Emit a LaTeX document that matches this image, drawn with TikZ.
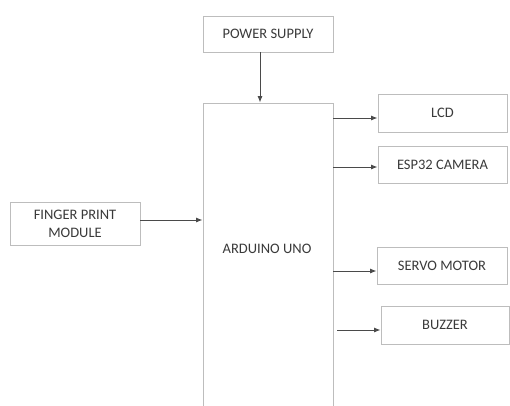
\documentclass[tikz,border=0pt]{standalone}
\usepackage{fontspec}
\setmainfont{Carlito}
\usetikzlibrary{arrows.meta}
\definecolor{boxline}{HTML}{BDBDBD}
\definecolor{txt}{HTML}{3A3A3A}
\definecolor{wire}{HTML}{4A4A4A}
\begin{document}
\begin{tikzpicture}[x=1pt,y=-1pt,
  blk/.style={draw=boxline, line width=0.9pt, fill=white, inner sep=0pt, align=center,
    text=txt, font=\fontsize{14.5}{18}\selectfont},
  wirearrow/.style={draw=wire, line width=0.9pt, -{Latex[length=6.5pt,width=5pt]}}]
\clip (0,0) rectangle (510,405);
\fill[white] (0,0) rectangle (510,405);
\node[blk, minimum width=130pt, minimum height=36pt] (ps) at (268,34) {POWER SUPPLY};
\node[blk, minimum width=130pt, minimum height=312pt] (uno) at (268,259) {};
\node[text=txt, font=\fontsize{14.5}{18}\selectfont] (unolabel) at (267,249) {ARDUINO UNO};
\node[blk, minimum width=129pt, minimum height=38pt] (lcd) at (442.5,113) {LCD};
\node[blk, minimum width=129pt, minimum height=37pt] (esp) at (442.5,164.5) {ESP32 CAMERA};
\node[blk, minimum width=130pt, minimum height=43pt] (fp) at (75,223.5) {FINGER PRINT\\MODULE};
\node[blk, minimum width=130pt, minimum height=37pt] (servo) at (442,265.5) {SERVO MOTOR};
\node[blk, minimum width=128pt, minimum height=38pt] (buzz) at (445,325) {BUZZER};
\coordinate (lcdin) at ([yshift=-5pt]lcd.west);
\coordinate (espin) at ([yshift=-2.5pt]esp.west);
\coordinate (fpout) at ([yshift=3.5pt]fp.east);
\coordinate (servoin) at ([yshift=-5.5pt]servo.west);
\coordinate (buzzin) at ([yshift=-5pt]buzz.west);
\coordinate (buzzstart) at ([xshift=4pt]uno.east |- buzzin);
\draw[wirearrow] ([xshift=-8pt]ps.south) -- ([xshift=-8pt]uno.north);
\draw[wirearrow] (uno.east |- lcdin) -- (lcdin);
\draw[wirearrow] (uno.east |- espin) -- (espin);
\draw[wirearrow] (fpout) -- (uno.west |- fpout);
\draw[wirearrow] (uno.east |- servoin) -- (servoin);
\draw[wirearrow] (buzzstart) -- (buzzin);
\end{tikzpicture}
\end{document}
